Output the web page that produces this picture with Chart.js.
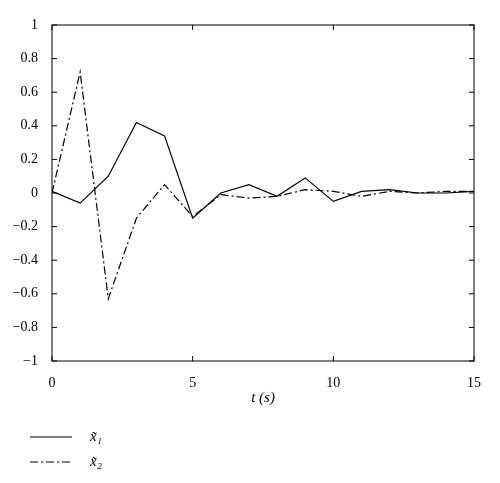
<!DOCTYPE html>
<html><head><meta charset="utf-8">
<script src="https://cdn.jsdelivr.net/npm/chart.js@4"></script>
<style>html,body{margin:0;background:#fff}#wrap{width:500px;height:483px}</style>
</head><body><div id="wrap"><canvas id="c"></canvas></div>
<script>
const times = [0,1,2,3,4,5,6,7,8,9,10,11,12,13,14,15];
const x1 = [0.01,-0.06,0.1,0.42,0.34,-0.15,0.0,0.05,-0.02,0.09,-0.05,0.01,0.02,0.0,0.0,0.01];
const x2 = [0.0,0.72,-0.63,-0.15,0.05,-0.14,-0.01,-0.03,-0.02,0.02,0.01,-0.02,0.01,0.0,0.01,0.01];
const yTicks = [-1,-0.8,-0.6,-0.4,-0.2,0,0.2,0.4,0.6,0.8,1];
const xTicks = [0,5,10,15];
const labels = ["x\u0303\u2081", "x\u0303\u2082"];

const font = { family: "Liberation Serif, serif", size: 14 };

// inward ticks, frame and legend drawn by hand
const framePlugin = {
  id: "frame",
  afterDraw(chart) {
    const { ctx, chartArea: { top, bottom, left, right }, scales: { x, y } } = chart;
    ctx.save();
    ctx.strokeStyle = "#000";
    ctx.lineWidth = 1;
    ctx.strokeRect(left, top, right - left, bottom - top);
    ctx.beginPath();
    yTicks.forEach(v => {
      const py = y.getPixelForValue(v);
      ctx.moveTo(left, py); ctx.lineTo(left + 5, py);
      ctx.moveTo(right, py); ctx.lineTo(right - 5, py);
    });
    xTicks.forEach(v => {
      const px = x.getPixelForValue(v);
      ctx.moveTo(px, bottom); ctx.lineTo(px, bottom - 5);
      ctx.moveTo(px, top); ctx.lineTo(px, top + 5);
    });
    ctx.stroke();
    // legend
    const dashes = [[], [8, 3, 2, 3]];
    labels.forEach((t, i) => {
      const ly = 437 + i * 25;
      ctx.setLineDash(dashes[i]);
      ctx.beginPath(); ctx.moveTo(30, ly); ctx.lineTo(72, ly); ctx.stroke();
      ctx.setLineDash([]);
      ctx.fillStyle = "#000";
      ctx.font = "italic 15px Liberation Serif, serif";
      ctx.textBaseline = "middle";
      ctx.fillText(t, 90, ly);
    });
    ctx.restore();
  }
};

new Chart(document.getElementById("c"), {
  type: "line",
  data: {
    datasets: [
      { data: times.map((t, i) => ({ x: t, y: x1[i] })), borderColor: "#000", borderWidth: 1.2, pointRadius: 0, tension: 0 },
      { data: times.map((t, i) => ({ x: t, y: x2[i] })), borderColor: "#000", borderWidth: 1.2, borderDash: [8, 3, 2, 3], pointRadius: 0, tension: 0 }
    ]
  },
  options: {
    animation: false,
    responsive: true,
    maintainAspectRatio: false,
    layout: { padding: { top: 25, right: 26, bottom: 72, left: 0 } },
    plugins: { legend: { display: false }, tooltip: { enabled: false } },
    scales: {
      x: {
        type: "linear", min: 0, max: 15,
        afterBuildTicks: s => { s.ticks = xTicks.map(v => ({ value: v })); },
        afterFit: s => { s.height = 50; },
        grid: { display: false }, border: { display: false },
        ticks: { color: "#000", font, padding: 6 },
        title: { display: true, text: "t (s)", color: "#000", font: { family: "Liberation Serif, serif", size: 15, style: "italic" }, padding: { top: 4 } }
      },
      y: {
        min: -1, max: 1,
        afterBuildTicks: s => { s.ticks = yTicks.map(v => ({ value: v })); },
        afterFit: s => { s.width = 52; },
        grid: { display: false }, border: { display: false },
        ticks: { color: "#000", font, padding: 6, callback: v => (v < 0 ? "\u2212" : "") + Math.abs(Math.round(v * 10) / 10) }
      }
    }
  },
  plugins: [framePlugin]
});
</script></body></html>
